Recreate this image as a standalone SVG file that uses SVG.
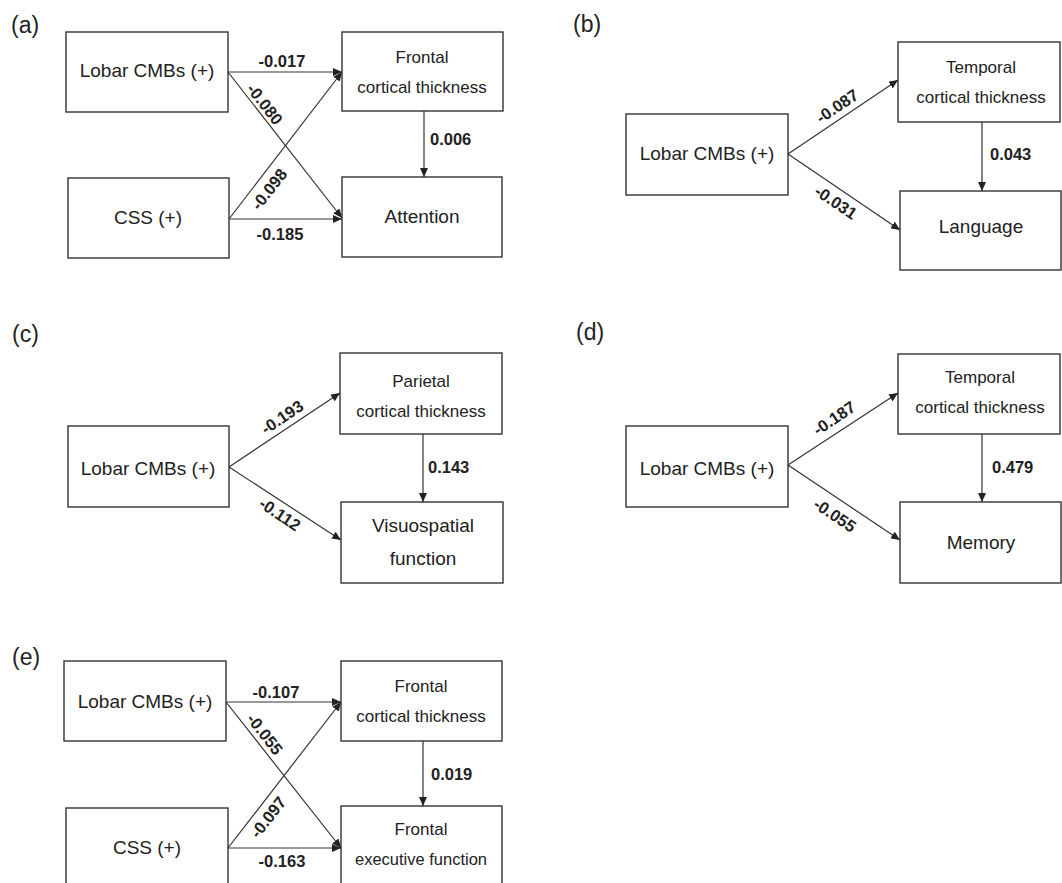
<svg xmlns="http://www.w3.org/2000/svg" width="1062" height="883" viewBox="0 0 1062 883">
<style>
  .box{fill:#fff;stroke:#333;stroke-width:1.4}
  .t{font-family:"Liberation Sans",Arial,sans-serif;font-size:19px;fill:#222;text-anchor:middle}
  .s{font-family:"Liberation Sans",Arial,sans-serif;font-size:17px;fill:#222;text-anchor:middle}
  .lab{font-family:"Liberation Sans",Arial,sans-serif;font-size:16.5px;font-weight:bold;fill:#222;text-anchor:middle}
  .labl{font-family:"Liberation Sans",Arial,sans-serif;font-size:16.5px;font-weight:bold;fill:#222}
  .pl{font-family:"Liberation Sans",Arial,sans-serif;font-size:23px;fill:#222}
  .e{stroke:#333;stroke-width:1.2;fill:none;marker-end:url(#ah)}
</style>
<defs>
  <marker id="ah" markerUnits="userSpaceOnUse" markerWidth="9" markerHeight="8" refX="9" refY="4" orient="auto">
    <path d="M0,0 L9,4 L0,8 z" fill="#222"/>
  </marker>
</defs>
<rect width="1062" height="883" fill="#fff"/>

<!-- panel labels -->
<text class="pl" x="11" y="33">(a)</text>
<text class="pl" x="573" y="32">(b)</text>
<text class="pl" x="12" y="342">(c)</text>
<text class="pl" x="576" y="340">(d)</text>
<text class="pl" x="12" y="665">(e)</text>

<!-- Panel a nodes -->
<g id="a-lobar"><rect class="box" x="66" y="32" width="162" height="80"/><text class="t" x="147" y="77">Lobar CMBs (+)</text></g>
<g id="a-frontal"><rect class="box" x="342" y="32" width="161" height="79"/><text class="s" x="422" y="63">Frontal</text><text class="s" x="422" y="93">cortical thickness</text></g>
<g id="a-css"><rect class="box" x="68" y="178" width="161" height="80"/><text class="t" x="148" y="224">CSS (+)</text></g>
<g id="a-attention"><rect class="box" x="342" y="177" width="160" height="80"/><text class="t" x="422" y="223">Attention</text></g>

<!-- Panel b nodes -->
<g id="b-lobar"><rect class="box" x="626" y="114" width="162" height="81"/><text class="t" x="707" y="160">Lobar CMBs (+)</text></g>
<g id="b-temporal"><rect class="box" x="898" y="42" width="162" height="80"/><text class="s" x="981" y="73">Temporal</text><text class="s" x="981" y="103">cortical thickness</text></g>
<g id="b-language"><rect class="box" x="900" y="191" width="161" height="79"/><text class="t" x="981" y="233">Language</text></g>

<!-- Panel c nodes -->
<g id="c-lobar"><rect class="box" x="68" y="426" width="161" height="81"/><text class="t" x="148" y="475">Lobar CMBs (+)</text></g>
<g id="c-parietal"><rect class="box" x="340" y="353" width="162" height="81"/><text class="s" x="421" y="387">Parietal</text><text class="s" x="421" y="417">cortical thickness</text></g>
<g id="c-visuo"><rect class="box" x="341" y="502" width="162" height="81"/><text class="t" x="423" y="532">Visuospatial</text><text class="t" x="423" y="565">function</text></g>

<!-- Panel d nodes -->
<g id="d-lobar"><rect class="box" x="626" y="426" width="162" height="81"/><text class="t" x="707" y="475">Lobar CMBs (+)</text></g>
<g id="d-temporal"><rect class="box" x="898" y="354" width="162" height="80"/><text class="s" x="980" y="383">Temporal</text><text class="s" x="980" y="413">cortical thickness</text></g>
<g id="d-memory"><rect class="box" x="900" y="502" width="161" height="81"/><text class="t" x="981" y="549">Memory</text></g>

<!-- Panel e nodes -->
<g id="e-lobar"><rect class="box" x="64" y="661" width="162" height="80"/><text class="t" x="145" y="708">Lobar CMBs (+)</text></g>
<g id="e-frontal"><rect class="box" x="341" y="661" width="161" height="80"/><text class="s" x="421" y="692">Frontal</text><text class="s" x="421" y="722">cortical thickness</text></g>
<g id="e-css"><rect class="box" x="66" y="808" width="162" height="90"/><text class="t" x="147" y="854">CSS (+)</text></g>
<g id="e-exec"><rect class="box" x="341" y="806" width="161" height="92"/><text class="s" x="421" y="835">Frontal</text><text class="s" x="421" y="865" style="font-size:16.5px">executive function</text></g>

<!-- connectors -->
<g id="connectors">
  <line class="e" x1="228" y1="72" x2="342" y2="72"/>
  <line class="e" x1="228" y1="72" x2="342" y2="218"/>
  <line class="e" x1="229" y1="219" x2="342" y2="72"/>
  <line class="e" x1="229" y1="219" x2="342" y2="219"/>
  <line class="e" x1="424" y1="111" x2="424" y2="177"/>

  <line class="e" x1="788" y1="154" x2="898" y2="80"/>
  <line class="e" x1="788" y1="154" x2="900" y2="230"/>
  <line class="e" x1="982" y1="122" x2="982" y2="191"/>

  <line class="e" x1="229" y1="467" x2="340" y2="393"/>
  <line class="e" x1="229" y1="467" x2="341" y2="540"/>
  <line class="e" x1="423" y1="434" x2="423" y2="502"/>

  <line class="e" x1="788" y1="465" x2="898" y2="393"/>
  <line class="e" x1="788" y1="465" x2="900" y2="540"/>
  <line class="e" x1="982" y1="434" x2="982" y2="502"/>

  <line class="e" x1="226" y1="702" x2="341" y2="702"/>
  <line class="e" x1="226" y1="702" x2="341" y2="848"/>
  <line class="e" x1="228" y1="848" x2="341" y2="702"/>
  <line class="e" x1="228" y1="848" x2="341" y2="848"/>
  <line class="e" x1="423" y1="741" x2="423" y2="806"/>
</g>

<!-- edge labels -->
<g id="edge-labels">
  <text class="lab" x="282" y="67">-0.017</text>
  <text class="lab" transform="translate(265,104) rotate(52)" y="6">-0.080</text>
  <text class="lab" transform="translate(269,189) rotate(-52)" y="6">-0.098</text>
  <text class="lab" x="280" y="240">-0.185</text>
  <text class="labl" x="430" y="145">0.006</text>

  <text class="lab" transform="translate(837,106) rotate(-34)" y="6">-0.087</text>
  <text class="lab" transform="translate(836,202) rotate(34)" y="6">-0.031</text>
  <text class="labl" x="990" y="160">0.043</text>

  <text class="lab" transform="translate(282,417) rotate(-34)" y="6">-0.193</text>
  <text class="lab" transform="translate(280,514) rotate(34)" y="6">-0.112</text>
  <text class="labl" x="428" y="473">0.143</text>

  <text class="lab" transform="translate(834,418) rotate(-34)" y="6">-0.187</text>
  <text class="lab" transform="translate(835,515) rotate(34)" y="6">-0.055</text>
  <text class="labl" x="992" y="473">0.479</text>

  <text class="lab" x="276" y="698">-0.107</text>
  <text class="lab" transform="translate(265,734) rotate(52)" y="6">-0.055</text>
  <text class="lab" transform="translate(268,817) rotate(-52)" y="6">-0.097</text>
  <text class="lab" x="282" y="867">-0.163</text>
  <text class="labl" x="431" y="780">0.019</text>
</g>
</svg>
